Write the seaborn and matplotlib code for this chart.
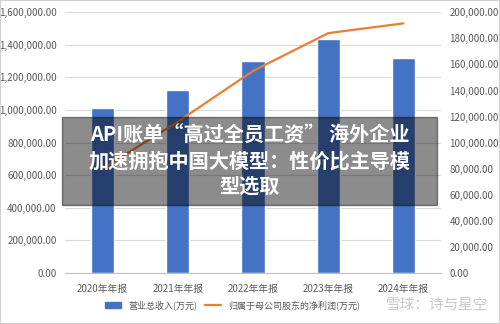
import seaborn as sns
import matplotlib.pyplot as plt
from matplotlib.patches import Rectangle
from matplotlib.lines import Line2D
from matplotlib.ticker import FuncFormatter
import numpy as np

# 数据
years = ['2020年年报', '2021年年报', '2022年年报', '2023年年报', '2024年年报']
revenue = [1012000, 1123000, 1299000, 1435000, 1319000]   # 营业总收入(万元)
profit = [80000, 116000, 155000, 184000, 191500]          # 归母净利润(万元)

sns.set_style('white')
plt.rcParams['font.family'] = ['Noto Sans CJK SC', 'DejaVu Sans']

fig = plt.figure(figsize=(5, 3.24), dpi=100)
ax = fig.add_axes([0.13, 0.1574, 0.752, 0.8047])

#Bar plot
sns.barplot(x=years, y=revenue, color='#4472C4', width=0.31, saturation=1, ax=ax)
ax.set_ylim(0, 1600000)
ax.set_yticks(np.arange(0, 1600001, 200000))
ax.yaxis.set_major_formatter(FuncFormatter(lambda v, p: f'{v:,.2f}'))
ax.grid(axis='y', color='#D9D9D9', linewidth=0.8)
ax.set_axisbelow(True)
for s in ['top', 'right', 'left']:
    ax.spines[s].set_visible(False)
ax.spines['bottom'].set_color('#BFBFBF')
ax.tick_params(axis='y', length=0, labelsize=7, colors='#595959', pad=6)
ax.tick_params(axis='x', length=0, labelsize=7, colors='#595959', pad=8)

# Line on right axis
ax2 = ax.twinx()
sns.lineplot(x=np.arange(len(years)), y=profit, color='#ED7D31', linewidth=1.6, ax=ax2)
ax2.set_ylim(0, 200000)
ax2.set_yticks(np.arange(0, 200001, 20000))
ax2.yaxis.set_major_formatter(FuncFormatter(lambda v, p: f'{v:,.2f}'))
for s in ax2.spines.values():
    s.set_visible(False)
ax2.tick_params(axis='y', length=0, labelsize=7, colors='#595959', pad=6)
ax.set_xlim(-0.5, 4.5)

# legend
handles = [Rectangle((0, 0), 1, 1, color='#4472C4'),
           Line2D([0], [0], color='#ED7D31', linewidth=1.6)]
fig.legend(handles, ['营业总收入(万元)', '归属于母公司股东的净利润(万元)'],
           loc='center left', bbox_to_anchor=(0.21, 0.058), ncol=2, frameon=False,
           fontsize=6.5, labelcolor='#595959', handlelength=1.8, handleheight=0.7,
           columnspacing=0.8, borderpad=0, borderaxespad=0)

# watermark
fig.text(0.875, 0.058, '雪球：诗与星空', fontsize=10.5, color='#C8C8C8',
         ha='center', va='center')

# title overlay
fig.patches.append(Rectangle((62 / 500, 1 - 205 / 324), 375 / 500, 88 / 324,
                             transform=fig.transFigure, color='black',
                             alpha=0.45, zorder=10))
fig.text(0.5, 1 - 161 / 324,
         'API账单“高过全员工资” 海外企业\n加速拥抱中国大模型：性价比主导模\n型选取',
         fontsize=14.5, fontweight='bold', color='white', ha='center',
         va='center', linespacing=1.25, zorder=11)

fig.patches.append(Rectangle((0, 0), 1, 1, transform=fig.transFigure,
                             fill=False, edgecolor='#D0D0D0', linewidth=1.5))
plt.savefig('out.png', dpi=100)
